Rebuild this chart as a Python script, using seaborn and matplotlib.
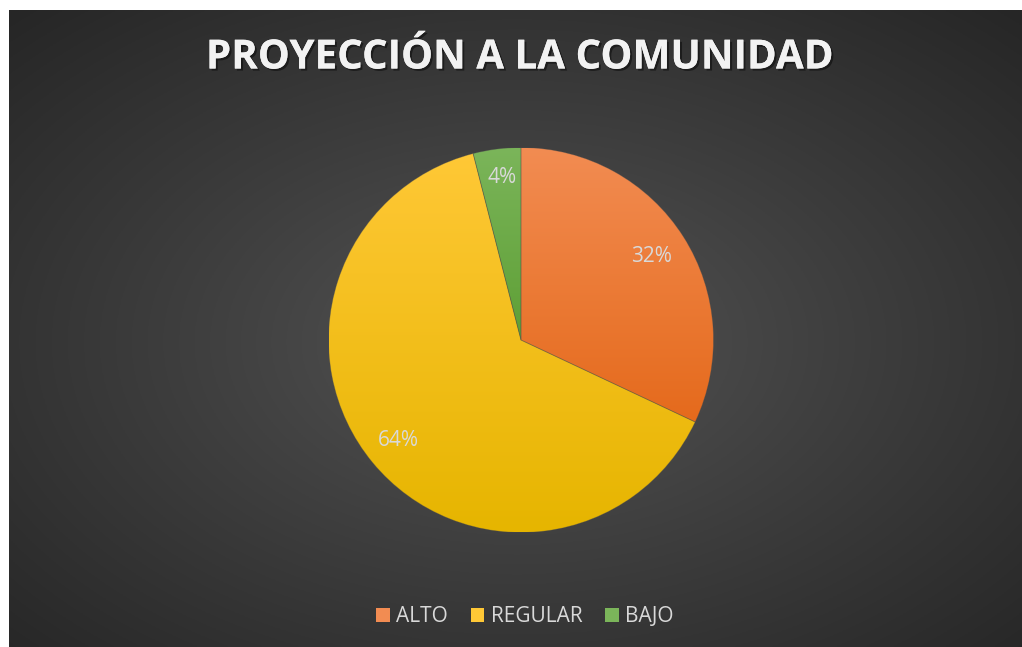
import numpy as np
import matplotlib
matplotlib.use("Agg")
import matplotlib.pyplot as plt
import seaborn as sns
from matplotlib.colors import LinearSegmentedColormap, to_rgb
import matplotlib.patheffects as pe

categories = ["ALTO", "REGULAR", "BAJO"]
values = [32, 64, 4]
pct_labels = ["32%", "64%", "4%"]
colors_top = ["#F28C52", "#FFC836", "#7BB55A"]
colors_bottom = ["#E56A1C", "#E6B500", "#5E9F35"]
title = "PROYECCIÓN A LA COMUNIDAD"

sns.set_theme(style="dark")
plt.rcParams['font.family'] = ['Open Sans', 'DejaVu Sans']

W, H = 1022, 647
fig = plt.figure(figsize=(W / 100, H / 100), dpi=100)
fig.patch.set_facecolor("white")

# background panel with radial gradient
bg_ax = fig.add_axes([9 / W, 0, 1 - 9 / W, 1 - 10 / H])
bg_ax.set_axis_off()
ny, nx = 300, 480
yy, xx = np.mgrid[0:ny, 0:nx]
cx, cy = nx * 0.5, ny * 0.52
r = np.sqrt(((xx - cx) / (nx * 0.6)) ** 2 + ((yy - cy) / (ny * 0.6)) ** 2)
r = np.clip(r / 1.2, 0, 1) ** 0.9
c_in = np.array(to_rgb("#565656"))
c_out = np.array(to_rgb("#262626"))
img = c_in[None, None, :] * (1 - r[..., None]) + c_out[None, None, :] * r[..., None]
bg_ax.imshow(img, extent=[0, 1, 0, 1], aspect="auto", origin="upper")
bg_ax.set_xlim(0, 1)
bg_ax.set_ylim(0, 1)

# pie axes: center (521, 340), radius ~192.5 px
R = 192.5
cxp, cyp = 521, 340
ax = fig.add_axes([(cxp - R) / W, (H - cyp - R) / H, 2 * R / W, 2 * R / H])
ax.set_facecolor("none")
wedges, _ = ax.pie(values, startangle=90, counterclock=False, radius=1,
                   colors=colors_top,
                   wedgeprops=dict(linewidth=0.6, edgecolor=(0.3, 0.3, 0.3, 0.35)))
ax.set_aspect("equal")
ax.set_axis_off()

grad = np.linspace(0, 1, 256)[:, None]
for w, ct, cb in zip(wedges, colors_top, colors_bottom):
    w.set_facecolor("none")
    w.set_zorder(3)
    cmap = LinearSegmentedColormap.from_list("g", [cb, ct])
    bb = w.get_patch_transform().transform_path(w.get_path()).get_extents()
    im = ax.imshow(grad, cmap=cmap, extent=[bb.x0, bb.x1, bb.y0, bb.y1],
                   origin="lower", aspect="auto", zorder=2)
    im.set_clip_path(w)
ax.set_xlim(-1, 1)
ax.set_ylim(-1, 1)

# percentage labels
label_pos = [(652, 257), (398, 440), (502, 178)]
for (px, py), t in zip(label_pos, pct_labels):
    fig.text(px / W, 1 - py / H, t, ha="center", va="center",
             color="#D9D9D9", fontsize=15)

# title
fig.text(520 / W, 1 - 58 / H, title, ha="center", va="center",
         color="#F2F2F2", fontsize=29, fontweight="bold",
         path_effects=[pe.withSimplePatchShadow(offset=(1.5, -1.5), shadow_rgbFace="black", alpha=0.45), pe.Normal()])

# legend
handles = [plt.Rectangle((0, 0), 1, 1, facecolor=c, edgecolor="none") for c in colors_top]
fig.legend(handles, categories, loc="center", bbox_to_anchor=(525 / W, 1 - 617 / H),
           ncol=3, frameon=False, fontsize=15, labelcolor="#D9D9D9",
           handlelength=0.65, handleheight=0.65, handletextpad=0.3, columnspacing=1.1)

fig.savefig("out.png", dpi=100, facecolor=fig.get_facecolor())
